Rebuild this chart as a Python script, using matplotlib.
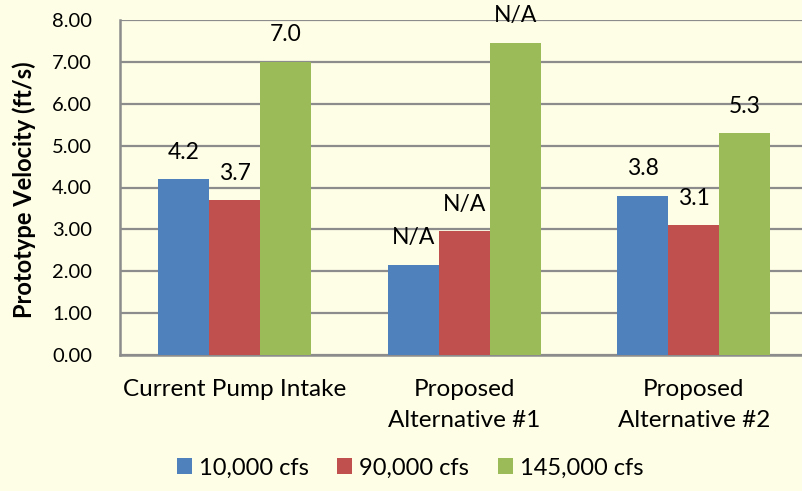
import matplotlib.pyplot as plt
import numpy as np

plt.rcParams['font.family'] = ['Lato', 'DejaVu Sans']

categories = ["Current Pump Intake", "Proposed\nAlternative #1", "Proposed\nAlternative #2"]
series_names = ["10,000 cfs", "90,000 cfs", "145,000 cfs"]
flow_10k = [4.2, 2.15, 3.8]
flow_90k = [3.7, 2.96, 3.1]
flow_145k = [7.0, 7.46, 5.3]
bar_labels = [["4.2", "N/A", "3.8"],
              ["3.7", "N/A", "3.1"],
              ["7.0", "N/A", "5.3"]]
yticks = [0, 1, 2, 3, 4, 5, 6, 7, 8]

colors = ["#4F81BD", "#C0504D", "#9BBB59"]
bg = "#FEFEE6"
grid_col = "#8C8C8C"

fig = plt.figure(figsize=(8.02, 4.91), dpi=100, facecolor=bg)
ax = fig.add_axes([120/802, 136/491, 688.5/802, 335/491])
ax.set_facecolor(bg)

x = np.arange(len(categories))
width = 0.222
for n, vals in enumerate([flow_10k, flow_90k, flow_145k]):
    pos = x + (n - 1) * width
    ax.bar(pos, vals, width, color=colors[n], label=series_names[n], zorder=3)
    for xp, v, lab in zip(pos, vals, bar_labels[n]):
        ax.annotate(lab, (xp, v), xytext=(0, 27), textcoords='offset pixels',
                    ha='center', va='center', fontsize=16.5, color='black')

ax.set_xlim(-0.5, 2.5)
ax.set_ylim(0, 8)
ax.set_yticks(yticks)
ax.set_yticklabels([f"{t:.2f}" for t in yticks], fontsize=14.5)
ax.set_xticks(x)
ax.set_xticklabels(categories, fontsize=17.5, linespacing=1.6, va='top')
ax.tick_params(axis='both', length=0, colors='black')
ax.tick_params(axis='y', pad=20)
ax.tick_params(axis='x', pad=17)
ax.grid(axis='y', color=grid_col, linewidth=1.6, zorder=0)
for s in ['top', 'right']:
    ax.spines[s].set_visible(False)
for s in ['left', 'bottom']:
    ax.spines[s].set_color(grid_col)
    ax.spines[s].set_linewidth(1.8)

fig.text(24/802, 1 - 190/491, "Prototype Velocity (ft/s)", rotation=90,
         ha='center', va='center', fontsize=17, fontweight='bold')

fig.legend(loc='center', bbox_to_anchor=(410/802, 1 - 468/491), ncol=3,
           frameon=False, fontsize=17, handlelength=0.64, handleheight=0.64,
           handletextpad=0.3, columnspacing=1.2)

fig.savefig("out.png", dpi=100, facecolor=bg)
